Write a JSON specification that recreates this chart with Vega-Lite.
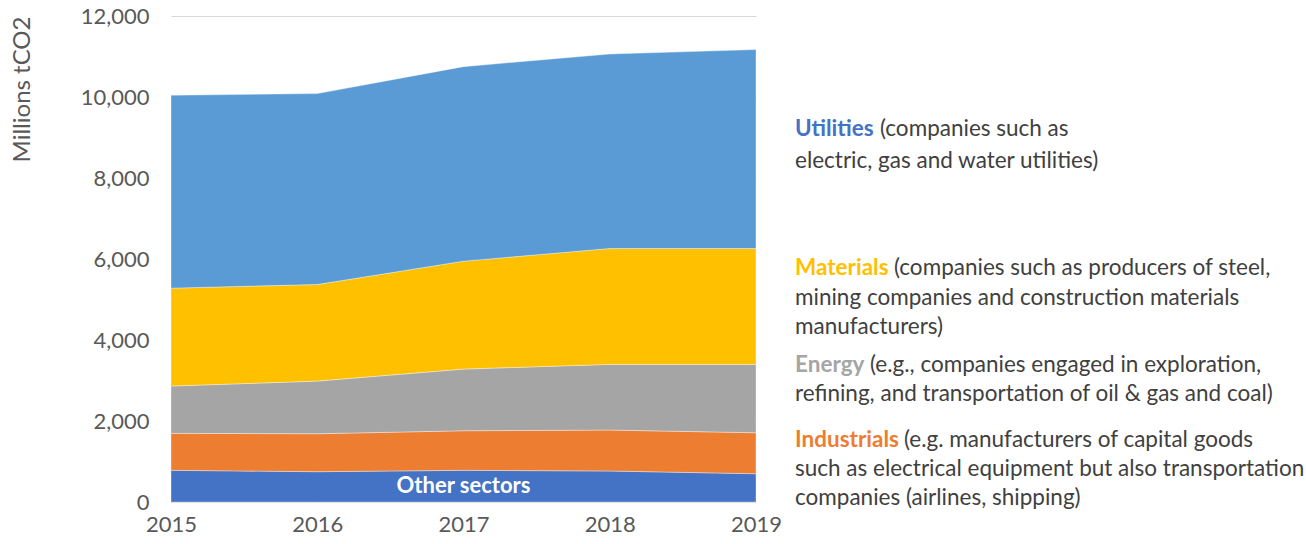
{
  "$schema": "https://vega.github.io/schema/vega-lite/v6.json",
  "background": "white",
  "padding": {"left": 10, "top": 5, "right": 0, "bottom": 5},
  "config": {"view": {"stroke": null}, "font": "Lato", "concat": {"spacing": 13}},
  "resolve": {"scale": {"color": "independent"}},
  "hconcat": [
    {
      "width": 585,
      "height": 486,
      "data": {"values": [
        {"year": 2015, "sector": "Other sectors", "value": 782},
        {"year": 2016, "sector": "Other sectors", "value": 748},
        {"year": 2017, "sector": "Other sectors", "value": 782},
        {"year": 2018, "sector": "Other sectors", "value": 765},
        {"year": 2019, "sector": "Other sectors", "value": 698},
        {"year": 2015, "sector": "Industrials", "value": 913},
        {"year": 2016, "sector": "Industrials", "value": 937},
        {"year": 2017, "sector": "Industrials", "value": 977},
        {"year": 2018, "sector": "Industrials", "value": 1011},
        {"year": 2019, "sector": "Industrials", "value": 1012},
        {"year": 2015, "sector": "Energy", "value": 1167},
        {"year": 2016, "sector": "Energy", "value": 1300},
        {"year": 2017, "sector": "Energy", "value": 1523},
        {"year": 2018, "sector": "Energy", "value": 1622},
        {"year": 2019, "sector": "Energy", "value": 1688},
        {"year": 2015, "sector": "Materials", "value": 2418},
        {"year": 2016, "sector": "Materials", "value": 2386},
        {"year": 2017, "sector": "Materials", "value": 2664},
        {"year": 2018, "sector": "Materials", "value": 2862},
        {"year": 2019, "sector": "Materials", "value": 2862},
        {"year": 2015, "sector": "Utilities", "value": 4762},
        {"year": 2016, "sector": "Utilities", "value": 4713},
        {"year": 2017, "sector": "Utilities", "value": 4804},
        {"year": 2018, "sector": "Utilities", "value": 4801},
        {"year": 2019, "sector": "Utilities", "value": 4910}
      ]},
      "transform": [
        {"calculate": "indexof(['Other sectors','Industrials','Energy','Materials','Utilities'], datum.sector)", "as": "k"}
      ],
      "layer": [
        {
          "mark": {"type": "area", "stroke": "white", "strokeWidth": 0.6, "strokeOpacity": 0.6},
          "encoding": {
            "x": {
              "field": "year", "type": "quantitative",
              "scale": {"domain": [2015, 2019], "nice": false, "zero": false},
              "axis": {"values": [2015, 2016, 2017, 2018, 2019], "format": "d", "title": null, "grid": false, "ticks": false, "tickSize": 0,
                "labelFontSize": 22, "labelColor": "#595959", "labelPadding": 12, "domainColor": "#D9D9D9", "labelFlush": false}
            },
            "y": {
              "field": "value", "type": "quantitative", "stack": "zero",
              "scale": {"domain": [0, 12000], "nice": false},
              "axis": {"values": [0, 2000, 4000, 6000, 8000, 10000, 12000], "format": ",.0f", "title": "Millions tCO2",
                "titleAnchor": "end", "titleFontWeight": "normal", "titleFontSize": 24, "titleColor": "#595959", "titlePadding": 46,
                "labelFontSize": 22, "labelColor": "#595959", "labelPadding": 22, "ticks": false, "tickSize": 0, "domain": false, "gridColor": "#D9D9D9"}
            },
            "color": {
              "field": "sector", "type": "nominal",
              "scale": {"domain": ["Other sectors", "Industrials", "Energy", "Materials", "Utilities"],
                        "range": ["#4472C4", "#ED7D31", "#A5A5A5", "#FFC000", "#5B9BD5"]},
              "legend": null
            },
            "order": {"field": "k", "type": "quantitative", "sort": "ascending"}
          }
        },
        {
          "transform": [
            {"filter": "datum.sector === 'Other sectors' && datum.year === 2017"},
            {"calculate": "datum.value / 2", "as": "mid"}
          ],
          "mark": {"type": "text", "color": "white", "fontWeight": "bold", "fontSize": 22, "baseline": "middle"},
          "encoding": {
            "x": {"field": "year", "type": "quantitative"},
            "y": {"field": "mid", "type": "quantitative"},
            "text": {"field": "sector"}
          }
        }
      ]
    },
    {
      "width": 500,
      "height": 486,
      "data": {"values": [
        {"sector": "Utilities", "part": "head", "line": 3.72, "text": "Utilities"},
        {"sector": "Utilities", "part": "first", "line": 3.72, "text": "(companies such as"},
        {"sector": "Utilities", "part": "body", "line": 4.77, "text": "electric, gas and water utilities)"},
        {"sector": "Materials", "part": "head", "line": 8.28, "text": "Materials"},
        {"sector": "Materials", "part": "first", "line": 8.28, "text": "(companies such as producers of steel,"},
        {"sector": "Materials", "part": "body", "line": 9.27, "text": "mining companies and construction materials"},
        {"sector": "Materials", "part": "body", "line": 10.24, "text": "manufacturers)"},
        {"sector": "Energy", "part": "head", "line": 11.49, "text": "Energy"},
        {"sector": "Energy", "part": "first", "line": 11.49, "text": "(e.g., companies engaged in exploration,"},
        {"sector": "Energy", "part": "body", "line": 12.45, "text": "refining, and transportation of oil & gas and coal)"},
        {"sector": "Industrials", "part": "head", "line": 13.97, "text": "Industrials"},
        {"sector": "Industrials", "part": "first", "line": 13.97, "text": "(e.g. manufacturers of capital goods"},
        {"sector": "Industrials", "part": "body", "line": 14.93, "text": "such as electrical equipment but also transportation"},
        {"sector": "Industrials", "part": "body", "line": 15.86, "text": "companies (airlines, shipping)"}
      ]},
      "encoding": {
        "x": {"datum": 0, "type": "quantitative", "scale": {"domain": [0, 1]}, "axis": null},
        "y": {"field": "line", "type": "quantitative", "scale": {"domain": [0, 16], "reverse": true, "nice": false}, "axis": null},
        "text": {"field": "text"}
      },
      "layer": [
        {
          "transform": [{"filter": "datum.part === 'head'"}],
          "mark": {"type": "text", "align": "left", "baseline": "middle", "fontSize": 22.5, "fontWeight": "bold"},
          "encoding": {
            "color": {"field": "sector", "type": "nominal",
              "scale": {"domain": ["Utilities", "Materials", "Energy", "Industrials"], "range": ["#4472C4", "#FFC000", "#A5A5A5", "#ED7D31"]},
              "legend": null}
          }
        },
        {
          "transform": [{"filter": "datum.part === 'body'"}],
          "mark": {"type": "text", "align": "left", "baseline": "middle", "fontSize": 22.5, "color": "#404040"}
        },
        {
          "transform": [{"filter": "datum.part === 'first' && datum.sector === 'Utilities'"}],
          "mark": {"type": "text", "align": "left", "baseline": "middle", "fontSize": 22.5, "color": "#404040", "dx": 85}
        },
        {
          "transform": [{"filter": "datum.part === 'first' && datum.sector === 'Materials'"}],
          "mark": {"type": "text", "align": "left", "baseline": "middle", "fontSize": 22.5, "color": "#404040", "dx": 99}
        },
        {
          "transform": [{"filter": "datum.part === 'first' && datum.sector === 'Energy'"}],
          "mark": {"type": "text", "align": "left", "baseline": "middle", "fontSize": 22.5, "color": "#404040", "dx": 75}
        },
        {
          "transform": [{"filter": "datum.part === 'first' && datum.sector === 'Industrials'"}],
          "mark": {"type": "text", "align": "left", "baseline": "middle", "fontSize": 22.5, "color": "#404040", "dx": 109}
        }
      ]
    }
  ]
}
